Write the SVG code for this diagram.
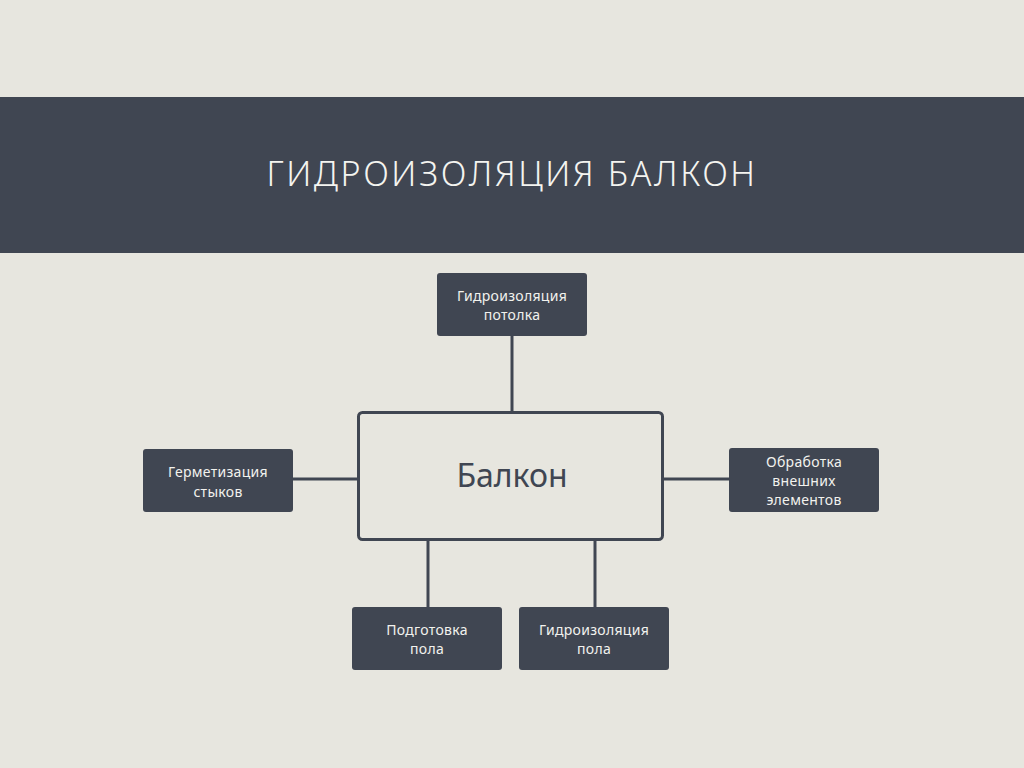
<svg xmlns="http://www.w3.org/2000/svg" width="1024" height="768" viewBox="0 0 1024 768">
<style>
.node rect{fill:#404652;}
.node text{fill:#f2f2ee;font-family:"Noto Sans","DejaVu Sans",sans-serif;font-size:14px;letter-spacing:0.3px;text-anchor:middle;}
.conn line{stroke:#404652;stroke-width:3;}
</style>
<rect width="1024" height="768" fill="#E7E6DF"/>
<rect x="0" y="97" width="1024" height="156" fill="#404652"/>
<text x="512" y="186" fill="#f4f4f0" font-family="'Noto Sans','DejaVu Sans',sans-serif" font-weight="300" font-size="34" letter-spacing="2.6" text-anchor="middle">ГИДРОИЗОЛЯЦИЯ БАЛКОН</text>
<g class="conn">
<line x1="512" y1="336" x2="512" y2="412"/>
<line x1="293" y1="479" x2="358" y2="479"/>
<line x1="663" y1="479" x2="729" y2="479"/>
<line x1="428" y1="540" x2="428" y2="607"/>
<line x1="595" y1="540" x2="595" y2="607"/>
</g>
<g id="center">
<rect x="358.5" y="412.5" width="304" height="127" rx="4" fill="#E7E6DF" stroke="#404652" stroke-width="3"/>
<text x="512" y="487" fill="#404652" font-family="'Noto Sans','DejaVu Sans',sans-serif" font-size="32" text-anchor="middle">Балкон</text>
</g>
<g id="top" class="node">
<rect x="437" y="273" width="150" height="63" rx="3"/>
<text x="512" y="301">Гидроизоляция</text>
<text x="512" y="320">потолка</text>
</g>
<g id="left" class="node">
<rect x="143" y="449" width="150" height="63" rx="3"/>
<text x="218" y="477">Герметизация</text>
<text x="218" y="497">стыков</text>
</g>
<g id="right" class="node">
<rect x="729" y="448" width="150" height="64" rx="3"/>
<text x="804" y="467">Обработка</text>
<text x="804" y="486">внешних</text>
<text x="804" y="505">элементов</text>
</g>
<g id="bottom-left" class="node">
<rect x="352" y="607" width="150" height="63" rx="3"/>
<text x="427" y="635">Подготовка</text>
<text x="427" y="654">пола</text>
</g>
<g id="bottom-right" class="node">
<rect x="519" y="607" width="150" height="63" rx="3"/>
<text x="594" y="635">Гидроизоляция</text>
<text x="594" y="654">пола</text>
</g>
</svg>
